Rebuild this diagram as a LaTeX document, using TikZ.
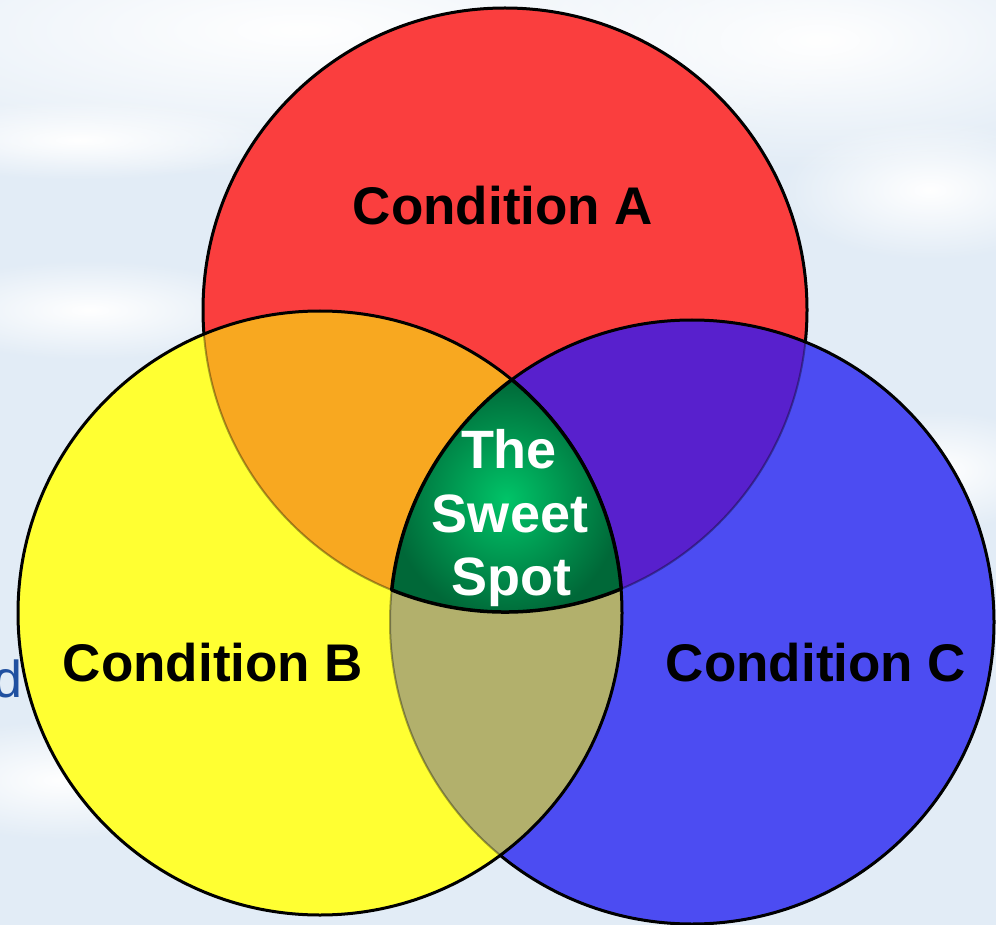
\documentclass[tikz,border=0pt]{standalone}
\usepackage{fontspec}
\setmainfont{Liberation Sans}
\usetikzlibrary{fadings}
\definecolor{bgblue}{RGB}{226,236,246}
\definecolor{cRed}{RGB}{250,62,62}
\definecolor{cYel}{RGB}{255,255,50}
\definecolor{cBlue}{RGB}{76,76,242}
\definecolor{cOra}{RGB}{248,168,32}
\definecolor{cPur}{RGB}{88,32,205}
\definecolor{cOli}{RGB}{178,176,108}
\definecolor{gIn}{RGB}{0,196,104}
\definecolor{gOut}{RGB}{0,104,56}
\definecolor{dBlue}{RGB}{32,80,160}
\tikzfading[name=softfade, inner color=transparent!0, outer color=transparent!100]
\tikzset{
  outline/.style={draw=black, line width=3},
  faint/.style={draw=black, draw opacity=0.35, line width=2},
  cond/.style={font=\fontsize{53}{62}\selectfont\bfseries, text=black, anchor=base, inner sep=0},
  sweettxt/.style={font=\fontsize{54}{62}\selectfont\bfseries, text=white, anchor=base, inner sep=0},
  cloud/.style={fill=white, path fading=softfade}
}
\begin{document}
\begin{tikzpicture}[x=1pt,y=-1pt]
\useasboundingbox (0,0) rectangle (996,925);
% background
\fill[bgblue] (0,0) rectangle (996,925);
\fill[cloud] (300,30) ellipse[x radius=600, y radius=150];
\fill[cloud] (820,40) ellipse[x radius=350, y radius=130];
\fill[cloud] (80,140) ellipse[x radius=200, y radius=40];
\fill[cloud] (90,310) ellipse[x radius=180, y radius=50];
\fill[cloud] (930,190) ellipse[x radius=150, y radius=70];
\fill[cloud] (940,470) ellipse[x radius=120, y radius=60];
\fill[cloud] (60,780) ellipse[x radius=160, y radius=60];
% centres
\coordinate (cA) at (505,310);
\coordinate (cB) at (320,613);
\coordinate (cC) at (692,622);
\def\R{302}
% fills
\fill[cRed] (cA) circle[radius=\R];
\fill[cBlue] (cC) circle[radius=\R];
\fill[cYel] (cB) circle[radius=\R];
\begin{scope}
  \clip (cA) circle[radius=\R];
  \fill[cPur] (cC) circle[radius=\R];
  \fill[cOra] (cB) circle[radius=\R];
\end{scope}
\begin{scope}
  \clip (cC) circle[radius=\R];
  \fill[cOli] (cB) circle[radius=\R];
\end{scope}
% faint hidden outlines
\draw[faint] (cA) circle[radius=\R];
\draw[faint] (cC) circle[radius=\R];
% visible outlines
\begin{scope}[even odd rule]
  \clip (-50,-50) rectangle (1050,1000) (cB) circle[radius=\R];
  \begin{scope}[even odd rule]
    \clip (-50,-50) rectangle (1050,1000) (cC) circle[radius=\R];
    \draw[outline] (cA) circle[radius=\R];
  \end{scope}
\end{scope}
\begin{scope}[even odd rule]
  \clip (-50,-50) rectangle (1050,1000) (cB) circle[radius=\R];
  \draw[outline] (cC) circle[radius=\R];
\end{scope}
\draw[outline] (cB) circle[radius=\R];
% sweet spot
\coordinate (p1) at (511.8,379.7);
\shadedraw[inner color=gIn, outer color=gOut, draw=black, line width=3.5, line join=round]
  (p1) arc[start angle=233.36, end angle=186.10, radius=\R]
       arc[start angle=112.06, end angle=67.40, radius=\R]
       arc[start angle=-4.60, end angle=-50.57, radius=\R] -- cycle;
% labels
\node[cond] (tA) at (503,225) {Condition A};
\node[cond] (tB) at (213,681) {Condition B};
\node[cond] (tC) at (816,681) {Condition C};
\node[sweettxt] (s1) at (509,468) {The};
\node[sweettxt] (s2) at (510,532) {Sweet};
\node[sweettxt] (s3) at (511,595) {Spot};
\node[font=\fontsize{52}{62}\selectfont, text=dBlue, anchor=base east, inner sep=0] (dd) at (23,697) {d};
\end{tikzpicture}
\end{document}
